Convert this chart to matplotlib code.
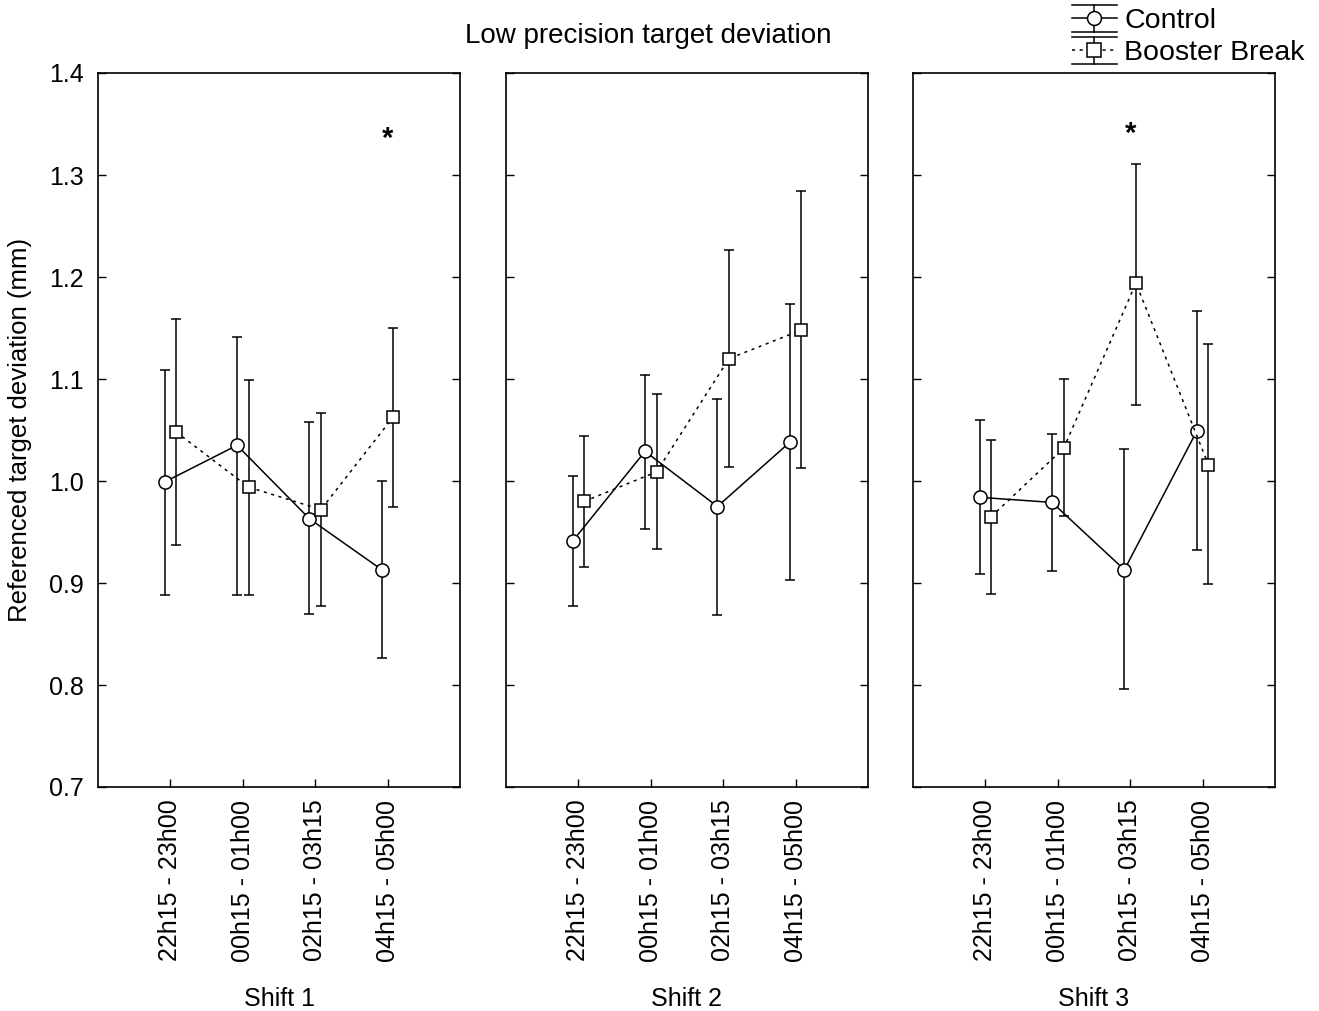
import numpy as np
import matplotlib
matplotlib.use("Agg")
import matplotlib.pyplot as plt
from matplotlib.legend_handler import HandlerBase
from matplotlib.lines import Line2D

plt.rcParams['font.family'] = ['Liberation Sans', 'DejaVu Sans']

# data
periods = ['22h15 - 23h00', '00h15 - 01h00', '02h15 - 03h15', '04h15 - 05h00']
shifts = ['Shift 1', 'Shift 2', 'Shift 3']

control_mean = [[0.999, 1.035, 0.963, 0.913],
                [0.941, 1.029, 0.975, 1.038],
                [0.984, 0.979, 0.913, 1.049]]
control_hi = [[1.109, 1.141, 1.058, 1.000],
              [1.005, 1.104, 1.080, 1.174],
              [1.060, 1.046, 1.031, 1.167]]
control_lo = [[0.888, 0.888, 0.870, 0.826],
              [0.877, 0.953, 0.869, 0.903],
              [0.909, 0.912, 0.796, 0.932]]

booster_mean = [[1.048, 0.994, 0.972, 1.063],
                [0.980, 1.009, 1.120, 1.148],
                [0.965, 1.032, 1.194, 1.016]]
booster_hi = [[1.159, 1.099, 1.067, 1.150],
              [1.044, 1.085, 1.226, 1.284],
              [1.040, 1.100, 1.311, 1.134]]
booster_lo = [[0.937, 0.888, 0.877, 0.975],
              [0.916, 0.933, 1.014, 1.013],
              [0.889, 0.966, 1.075, 0.899]]

# (shift index, period index, y) of significance stars
stars = [(0, 3, 1.335), (2, 2, 1.34)]

DOTTED = (0, (2, 3))


class ErrHandler(HandlerBase):
    # statistica-style legend key: caps across the whole key, marker in middle
    def __init__(self, marker, ls, ms):
        super().__init__()
        self.marker = marker
        self.ls = ls
        self.ms = ms

    def create_artists(self, legend, orig_handle, xdescent, ydescent,
                       width, height, fontsize, trans):
        x0 = -xdescent
        x1 = x0 + width
        xm = (x0 + x1) / 2
        cy = -ydescent + height / 2
        h = 0.68 * height
        arts = [
            Line2D([x0, x1], [cy + h, cy + h], color='black', lw=1.1),
            Line2D([x0, x1], [cy - h, cy - h], color='black', lw=1.1),
            Line2D([xm, xm], [cy - h, cy + h], color='black', lw=1.1),
            Line2D([x0, x1], [cy, cy], color='black', lw=1.1, ls=self.ls),
            Line2D([xm], [cy], marker=self.marker, ms=self.ms, mfc='white',
                   mec='black', mew=1.1, ls='none'),
        ]
        for a in arts:
            a.set_transform(trans)
        return arts


W, H = 1319, 1011
fig = plt.figure(figsize=(W / 100, H / 100), dpi=100)

lefts = [98, 506, 913]
axw = 362
bottom = 1 - 787 / H
height = (787 - 73) / H

x = np.arange(1, len(periods) + 1)
off = 0.08
handles = None
yt = np.arange(0.7, 1.41, 0.1)

for i in range(3):
    ax = fig.add_axes([lefts[i] / W, bottom, axw / W, height])
    cm = np.array(control_mean[i])
    bm = np.array(booster_mean[i])
    c_err = [cm - np.array(control_lo[i]), np.array(control_hi[i]) - cm]
    b_err = [bm - np.array(booster_lo[i]), np.array(booster_hi[i]) - bm]

    h1 = ax.errorbar(x - off, cm, yerr=c_err, color='black', lw=1.1,
                     marker='o', ms=9.5, mfc='white', mec='black', mew=1.1,
                     ecolor='black', elinewidth=1.1, capsize=3.5, capthick=1.1,
                     zorder=3)
    h2 = ax.errorbar(x + off, bm, yerr=b_err, color='black', lw=1.1,
                     ls=DOTTED,
                     marker='s', ms=9, mfc='white', mec='black', mew=1.1,
                     ecolor='black', elinewidth=1.1, capsize=3.5, capthick=1.1,
                     zorder=3)
    if handles is None:
        handles = [h1, h2]

    for s, p, yv in stars:
        if s == i:
            ax.text(x[p], yv, '*', ha='center', va='center', fontsize=21,
                    fontweight='bold')

    ax.set_xlim(0, 5)
    ax.set_ylim(0.7, 1.4)
    ax.set_xticks(x)
    ax.set_xticklabels(periods, rotation=90, fontsize=18)
    ax.set_yticks(yt)
    if i == 0:
        ax.set_yticklabels(['%.1f' % v for v in yt], fontsize=18)
    else:
        ax.set_yticklabels([])
    ax.tick_params(axis='y', direction='in', left=True, right=True, length=6,
                   width=1, pad=10)
    ax.tick_params(axis='x', direction='in', top=False, length=6, width=1,
                   pad=9)
    for sp in ax.spines.values():
        sp.set_linewidth(1.2)

    fig.text((lefts[i] + axw / 2) / W, 1 - 999 / H, shifts[i], ha='center',
             va='center', fontsize=18)

fig.text(20 / W, 1 - 430 / H, 'Referenced target deviation (mm)',
         rotation=90, ha='center', va='center', fontsize=18.5)
fig.text(648 / W, 1 - 36 / H, 'Low precision target deviation', ha='center',
         va='center', fontsize=20)

fig.legend(handles, ['Control', 'Booster Break'], loc='upper right',
           bbox_to_anchor=(1.0, 1.006), frameon=False, fontsize=20.5,
           handlelength=1.6, handletextpad=0.25, labelspacing=0.22,
           borderaxespad=0.1,
           handler_map={handles[0]: ErrHandler('o', '-', 10),
                        handles[1]: ErrHandler('s', DOTTED, 9.5)})

fig.savefig('out.png', dpi=100)
